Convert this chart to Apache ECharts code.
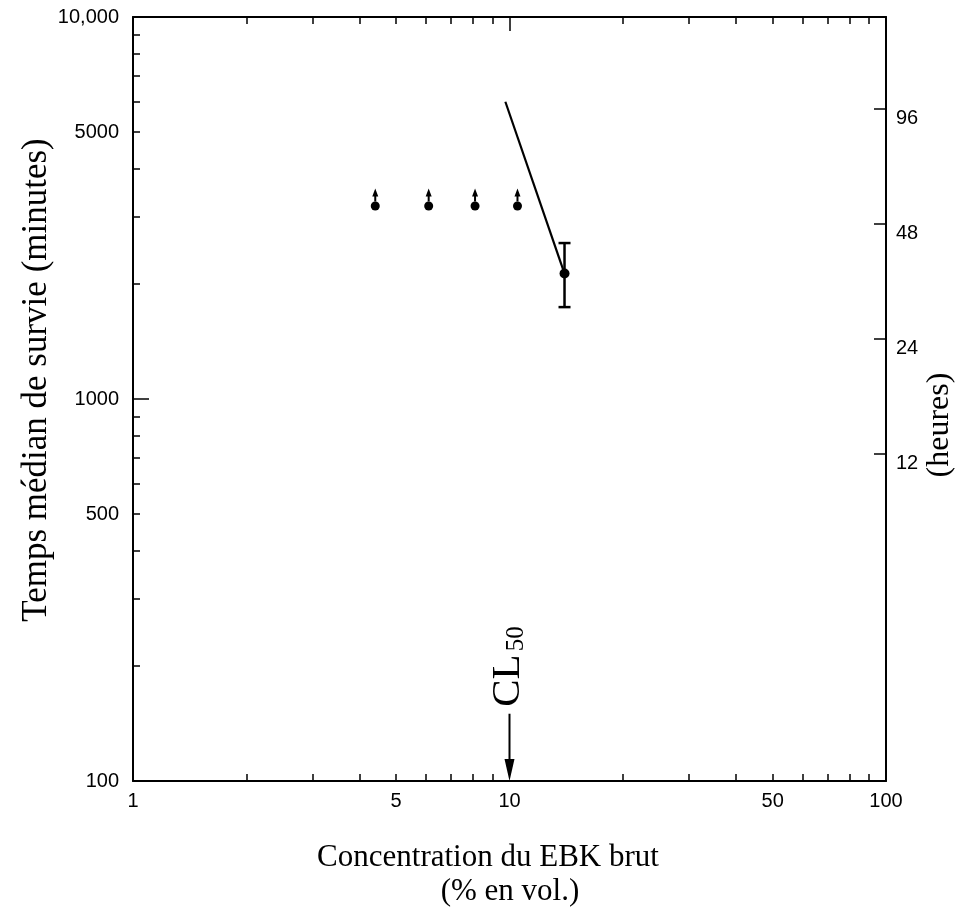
<!DOCTYPE html>
<html>
<head>
<meta charset="utf-8">
<script src="https://cdn.jsdelivr.net/npm/echarts@6/dist/echarts.min.js"></script>
<style>
html,body{margin:0;padding:0;background:#fff;}
#chart{width:971px;height:916px;}
</style>
</head>
<body>
<div id="chart"></div>
<script>
// ---- data ----
const concentrations = [4.4, 6.1, 8.1, 10.5];          // % en vol. (survival > value)
const survivalMinutes = [3200, 3200, 3200, 3200];       // minutes
const errConcentration = [14];
const errMedian = [2130];
const errLow = [1740];
const errHigh = [2560];
const lineConcentration = [9.75, 14];
const lineMinutes = [6000, 2130];
const cl50Concentration = 10;
const cl50ArrowFrom = 150;   // minutes
const cl50ArrowTo = 100;     // minutes

// ---- axis ticks ----
const xLabelValues = [1, 5, 10, 50, 100];
const xMinorTicks = [2, 3, 4, 5, 6, 7, 8, 9, 20, 30, 40, 50, 60, 70, 80, 90];
const xMajorTicks = [10];
const yLabelValues = [100, 500, 1000, 5000, 10000];
const yMinorTicks = [200, 300, 400, 500, 600, 700, 800, 900, 2000, 3000, 4000, 5000, 6000, 7000, 8000, 9000];
const yMajorTicks = [1000];
const hourLabels = [12, 24, 48, 96];

const hourValuesInMinutes = hourLabels.map(h => h * 60);

const BLACK = '#000';
const sans = 'Liberation Sans';
const serif = 'Liberation Serif';

const chart = echarts.init(document.getElementById('chart'), null, {renderer: 'canvas'});

function logAxis(extra) {
  return Object.assign({
    type: 'log', logBase: 10,
    splitLine: {show: false},
    minorTick: {show: false},
    axisLine: {show: true, lineStyle: {color: BLACK, width: 2}},
    axisTick: {show: false},
    axisLabel: {show: false}
  }, extra);
}

const option = {
  animation: false,
  backgroundColor: '#fff',
  grid: {left: 133, right: 85, top: 17, bottom: 135, containLabel: false},
  xAxis: [
    logAxis({
      min: 1, max: 100, position: 'bottom',
      axisTick: {show: true, inside: true, length: 7, customValues: xMinorTicks, lineStyle: {color: BLACK, width: 1.5}},
      axisLabel: {show: true, customValues: xLabelValues, fontFamily: sans, fontSize: 20, color: BLACK, margin: 10,
        formatter: v => String(Math.round(v))}
    }),
    logAxis({
      min: 1, max: 100, position: 'top',
      axisTick: {show: true, inside: true, length: 7, customValues: xMinorTicks, lineStyle: {color: BLACK, width: 1.5}}
    }),
    logAxis({
      min: 1, max: 100, position: 'top',
      axisLine: {show: false},
      axisTick: {show: true, inside: true, length: 14, customValues: xMajorTicks, lineStyle: {color: BLACK, width: 1.5}}
    })
  ],
  yAxis: [
    logAxis({
      min: 100, max: 10000, position: 'left',
      axisTick: {show: true, inside: true, length: 7, customValues: yMinorTicks, lineStyle: {color: BLACK, width: 1.5}},
      axisLabel: {show: true, customValues: yLabelValues, fontFamily: sans, fontSize: 20, color: BLACK, margin: 14,
        formatter: v => { const r = Math.round(v); return r === 10000 ? '10,000' : String(r); }}
    }),
    logAxis({
      min: 100, max: 10000, position: 'left',
      axisLine: {show: false},
      axisTick: {show: true, inside: true, length: 16, customValues: yMajorTicks, lineStyle: {color: BLACK, width: 1.5}}
    }),
    logAxis({
      min: 100, max: 10000, position: 'right',
      axisTick: {show: true, inside: true, length: 12, customValues: hourValuesInMinutes, lineStyle: {color: BLACK, width: 1.5}},
      axisLabel: {show: true, customValues: hourValuesInMinutes, fontFamily: sans, fontSize: 20, color: BLACK, margin: 10,
        verticalAlign: 'top', formatter: v => String(Math.round(v / 60))}
    })
  ],
  graphic: [
    {
      type: 'text', x: 37, y: 380, rotation: Math.PI / 2,
      style: {text: 'Temps médian de survie (minutes)', font: '35px "Liberation Serif"', fill: BLACK,
        align: 'center', verticalAlign: 'middle'}
    },
    {
      type: 'text', x: 940, y: 425, rotation: Math.PI / 2,
      style: {text: '(heures)', font: '32px "Liberation Serif"', fill: BLACK,
        align: 'center', verticalAlign: 'middle'}
    },
    {
      type: 'text', x: 488, y: 858,
      style: {text: 'Concentration du EBK brut', font: '31px "Liberation Serif"', fill: BLACK,
        align: 'center', verticalAlign: 'middle'}
    },
    {
      type: 'text', x: 510, y: 892,
      style: {text: '(% en vol.)', font: '31px "Liberation Serif"', fill: BLACK,
        align: 'center', verticalAlign: 'middle'}
    }
  ],
  series: [
    {
      type: 'line', xAxisIndex: 0, yAxisIndex: 0,
      data: lineConcentration.map((c, i) => [c, lineMinutes[i]]),
      showSymbol: false, symbol: 'none',
      lineStyle: {color: BLACK, width: 2.2}
    },
    {
      type: 'scatter', xAxisIndex: 0, yAxisIndex: 0,
      data: concentrations.map((c, i) => [c, survivalMinutes[i]]),
      symbol: 'circle', symbolSize: 9,
      itemStyle: {color: BLACK, opacity: 1}
    },
    {
      type: 'scatter', xAxisIndex: 0, yAxisIndex: 0,
      data: concentrations.map((c, i) => [c, survivalMinutes[i]]),
      symbol: 'path://M0,0 L3,8 L1,8 L1,13 L-1,13 L-1,8 L-3,8 Z',
      symbolSize: [6, 13], symbolOffset: [0, -11],
      itemStyle: {color: BLACK, opacity: 1}
    },
    {
      type: 'custom', xAxisIndex: 0, yAxisIndex: 0,
      data: errConcentration.map((c, i) => [c, errLow[i], errHigh[i]]),
      renderItem: function (params, api) {
        const x = api.value(0);
        const lo = api.coord([x, api.value(1)]);
        const hi = api.coord([x, api.value(2)]);
        const w = 6;
        const st = {stroke: BLACK, lineWidth: 2.5};
        return {type: 'group', children: [
          {type: 'line', shape: {x1: lo[0], y1: lo[1], x2: hi[0], y2: hi[1]}, style: st},
          {type: 'line', shape: {x1: lo[0] - w, y1: lo[1], x2: lo[0] + w, y2: lo[1]}, style: st},
          {type: 'line', shape: {x1: hi[0] - w, y1: hi[1], x2: hi[0] + w, y2: hi[1]}, style: st}
        ]};
      }
    },
    {
      type: 'scatter', xAxisIndex: 0, yAxisIndex: 0,
      data: errConcentration.map((c, i) => [c, errMedian[i]]),
      symbol: 'circle', symbolSize: 10,
      itemStyle: {color: BLACK, opacity: 1}
    },
    {
      type: 'custom', xAxisIndex: 0, yAxisIndex: 0,
      data: [[cl50Concentration, cl50ArrowFrom, cl50ArrowTo]],
      clip: false,
      renderItem: function (params, api) {
        const x = api.value(0);
        const top = api.coord([x, api.value(1)]);
        const bot = api.coord([x, api.value(2)]);
        return {type: 'group', children: [
          {type: 'line', shape: {x1: top[0], y1: top[1], x2: bot[0], y2: bot[1] - 16}, style: {stroke: BLACK, lineWidth: 2}},
          {type: 'polygon', shape: {points: [[bot[0] - 5, bot[1] - 22], [bot[0] + 5, bot[1] - 22], [bot[0], bot[1]]]}, style: {fill: BLACK}},
          {type: 'text', x: top[0] - 1, y: top[1] - 7, rotation: Math.PI / 2,
            style: {
              text: '{a|CL}{b|50}', align: 'left', verticalAlign: 'middle',
              rich: {
                a: {fontFamily: serif, fontSize: 41, fill: BLACK, verticalAlign: 'bottom'},
                b: {fontFamily: serif, fontSize: 25, fill: BLACK, verticalAlign: 'bottom', padding: [0, 0, 0, 3]}
              }
            }}
        ]};
      }
    }
  ]
};
chart.setOption(option);
</script>
</body>
</html>
